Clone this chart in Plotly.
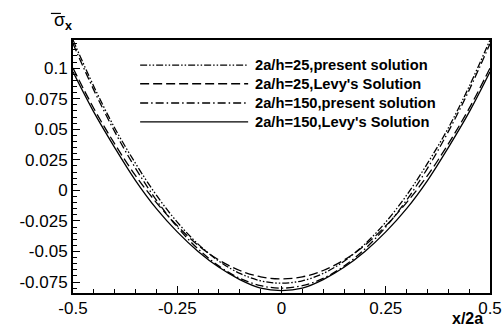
import plotly.graph_objects as go

x = [-0.5, -0.45, -0.4, -0.35, -0.3, -0.25, -0.2, -0.15, -0.1, -0.05, 0.0,
     0.05, 0.1, 0.15, 0.2, 0.25, 0.3, 0.35, 0.4, 0.45, 0.5]

# 2a/h=25, present solution
y25_present = [0.123, 0.085, 0.051, 0.022, -0.004, -0.026, -0.044, -0.058, -0.068, -0.074, -0.076,
               -0.074, -0.068, -0.058, -0.044, -0.026, -0.004, 0.022, 0.051, 0.085, 0.123]
# 2a/h=25, Levy's Solution
y25_levy = [0.100, 0.067, 0.038, 0.012, -0.010, -0.029, -0.045, -0.057, -0.0656, -0.0708, -0.0725,
            -0.0708, -0.0656, -0.057, -0.045, -0.029, -0.010, 0.012, 0.038, 0.067, 0.100]
# 2a/h=150, present solution
y150_present = [0.120, 0.082, 0.048, 0.018, -0.008, -0.030, -0.048, -0.062, -0.072, -0.078, -0.080,
                -0.078, -0.072, -0.062, -0.048, -0.030, -0.008, 0.018, 0.048, 0.082, 0.120]
# 2a/h=150, Levy's Solution
y150_levy = [0.097, 0.064, 0.035, 0.008, -0.015, -0.034, -0.050, -0.063, -0.073, -0.080, -0.082,
             -0.080, -0.073, -0.063, -0.050, -0.034, -0.015, 0.008, 0.035, 0.064, 0.097]

names = ["2a/h=25,present solution", "2a/h=25,Levy's Solution",
         "2a/h=150,present solution", "2a/h=150,Levy's Solution"]
series = [y25_present, y25_levy, y150_present, y150_levy]
dashes = ["7px,2px,1.5px,2px,1.5px,2px", "9px,4px", "8px,3px,1.5px,3px", "solid"]

ytickvals = [0.1, 0.075, 0.05, 0.025, 0, -0.025, -0.05, -0.075]
yticktext = ["0.1", "0.075", "0.05", "0.025", "0", "-0.025", "-0.05", "-0.075"]
xtickvals = [-0.5, -0.25, 0, 0.25, 0.5]
xticktext = ["-0.5", "-0.25", "0", "0.25", "0.5"]

fig = go.Figure()
for n, s, d in zip(names, series, dashes):
    fig.add_trace(go.Scatter(x=x, y=s, name=n, mode="lines", showlegend=False,
                             line=dict(color="black", width=1.3, dash=d, shape="spline")))

font = "Liberation Sans, Arial, sans-serif"

# custom legend (long line samples as in the reference)
legend_rows_y = [0.901, 0.827, 0.751, 0.676]
shapes = [dict(type="line", xref="paper", yref="paper", x0=-0.053, x1=-0.029, y0=1.105, y1=1.105,
               line=dict(color="black", width=1.2))]
annotations = [
    dict(text="<b>x/2a</b>", xref="paper", yref="paper", x=0.947, y=-0.099,
         xanchor="center", yanchor="middle", showarrow=False, font=dict(size=16, family=font)),
    dict(text="σ<sub><b>x</b></sub>", xref="paper", yref="paper", x=-0.023, y=1.02,
         xanchor="center", yanchor="bottom", showarrow=False, font=dict(size=18, family=font)),
]
for n, d, ly in zip(names, dashes, legend_rows_y):
    shapes.append(dict(type="line", xref="paper", yref="paper", x0=0.161, x1=0.42, y0=ly, y1=ly,
                       line=dict(color="black", width=1.3, dash=d)))
    annotations.append(dict(text="<b>" + n + "</b>", xref="paper", yref="paper", x=0.432, y=ly,
                            xanchor="left", yanchor="middle", showarrow=False,
                            font=dict(size=14.7, family=font)))

fig.update_layout(
    width=503, height=329,
    margin=dict(l=73, r=13, t=40, b=36, pad=0, autoexpand=False),
    plot_bgcolor="white", paper_bgcolor="white",
    font=dict(family=font, size=17, color="black"),
    showlegend=False,
    xaxis=dict(range=[-0.5, 0.5], tickvals=xtickvals, ticktext=xticktext, automargin=False,
               ticks="inside", ticklen=7, tickwidth=1, tickcolor="black",
               ticklabelstandoff=-1,
               showline=True, linecolor="black", linewidth=2, mirror=True,
               showgrid=False, zeroline=False,
               minor=dict(dtick=0.05, tick0=0, ticks="inside", ticklen=4, tickcolor="black", showgrid=False)),
    yaxis=dict(range=[-0.084, 0.123], tickvals=ytickvals, ticktext=yticktext, automargin=False,
               ticks="inside", ticklen=7, tickwidth=1, tickcolor="black",
               showline=True, linecolor="black", linewidth=2, mirror=True,
               showgrid=False, zeroline=False,
               minor=dict(dtick=0.005, tick0=0, ticks="inside", ticklen=4, tickcolor="black", showgrid=False)),
    annotations=annotations,
    shapes=shapes,
)

fig.write_html("out.html", config={"displayModeBar": False},
               post_script="document.body.style.margin='0';")
